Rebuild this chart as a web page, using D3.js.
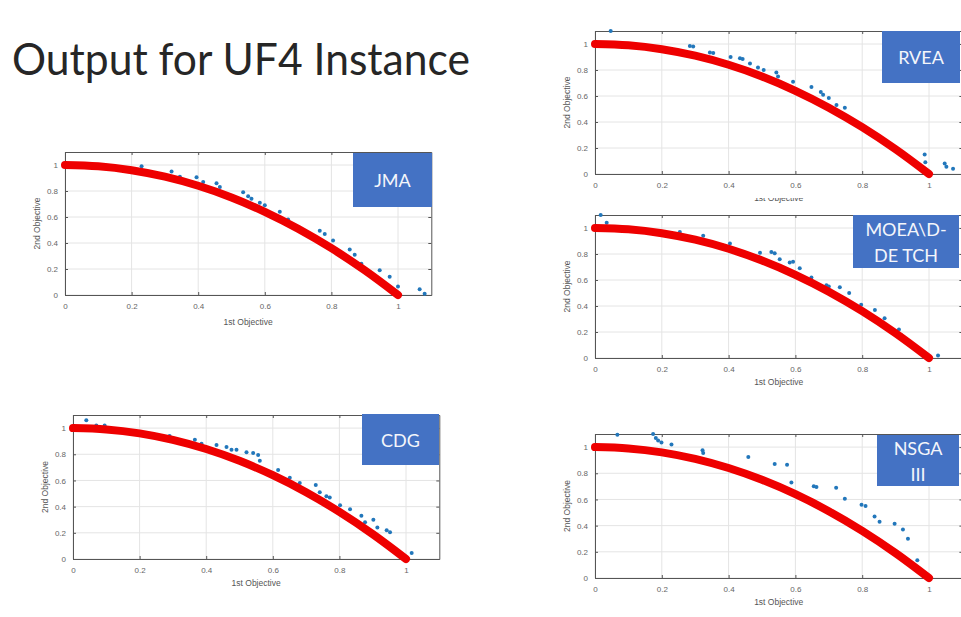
<!DOCTYPE html>
<html>
<head>
<meta charset="utf-8">
<script src="https://cdn.jsdelivr.net/npm/d3@7"></script>
<style>
  html, body { margin: 0; padding: 0; background: #fff; }
  svg { display: block; }
</style>
</head>
<body>
<svg id="chart" width="961" height="617"></svg>
<script>
// Tick values shared by both axes of every panel
const tickValues = [0, 0.2, 0.4, 0.6, 0.8, 1];
const tickLabels = ["0", "0.2", "0.4", "0.6", "0.8", "1"];

// True Pareto front of UF4 (red band), sampled along the first objective
const frontX = [0, 0.1, 0.2, 0.3, 0.4, 0.5, 0.6, 0.7, 0.8, 0.9, 1.0];
const frontY = [1, 0.99, 0.96, 0.91, 0.84, 0.75, 0.64, 0.51, 0.36, 0.19, 0];

// Obtained solutions per algorithm: [1st objective, 2nd objective]
const jmaPoints = [
  [0.23, 0.99], [0.32, 0.95], [0.345, 0.91], [0.395, 0.905], [0.415, 0.87],
  [0.455, 0.86], [0.465, 0.83], [0.535, 0.79], [0.55, 0.76], [0.56, 0.74],
  [0.585, 0.71], [0.60, 0.69], [0.645, 0.64], [0.67, 0.58], [0.765, 0.495],
  [0.78, 0.47], [0.805, 0.42], [0.855, 0.35], [0.87, 0.31], [0.89, 0.24],
  [0.945, 0.19], [0.975, 0.14], [1.0, 0.065], [1.065, 0.045], [1.08, 0.01]
];
const rveaPoints = [
  [0.047, 1.10], [0.284, 0.985], [0.294, 0.98], [0.344, 0.935], [0.354, 0.93],
  [0.406, 0.90], [0.434, 0.89], [0.442, 0.885], [0.464, 0.85], [0.488, 0.82],
  [0.505, 0.80], [0.543, 0.78], [0.548, 0.75], [0.593, 0.71], [0.648, 0.67],
  [0.676, 0.63], [0.683, 0.61], [0.70, 0.585], [0.723, 0.53], [0.748, 0.51],
  [0.987, 0.15], [0.989, 0.09], [1.047, 0.08], [1.052, 0.055], [1.072, 0.04]
];
const moeadPoints = [
  [0.017, 1.10], [0.035, 1.04], [0.254, 0.97], [0.324, 0.94], [0.404, 0.88],
  [0.494, 0.81], [0.528, 0.815], [0.538, 0.805], [0.553, 0.76], [0.583, 0.735],
  [0.593, 0.74], [0.613, 0.69], [0.648, 0.62], [0.693, 0.56], [0.70, 0.55],
  [0.733, 0.545], [0.761, 0.50], [0.797, 0.41], [0.838, 0.37], [0.867, 0.305],
  [0.91, 0.22], [0.917, 0.175], [1.027, 0.02]
];
const cdgPoints = [
  [0.04, 1.06], [0.07, 1.02], [0.095, 1.02], [0.29, 0.94], [0.366, 0.91],
  [0.386, 0.88], [0.431, 0.87], [0.461, 0.855], [0.476, 0.835], [0.491, 0.835],
  [0.521, 0.815], [0.541, 0.81], [0.556, 0.795], [0.561, 0.75], [0.616, 0.68],
  [0.651, 0.62], [0.681, 0.58], [0.729, 0.565], [0.741, 0.51], [0.761, 0.48],
  [0.771, 0.47], [0.802, 0.41], [0.832, 0.38], [0.866, 0.33], [0.877, 0.28],
  [0.902, 0.30], [0.914, 0.24], [0.942, 0.22], [0.952, 0.205], [1.017, 0.046]
];
const nsgaPoints = [
  [0.067, 1.095], [0.174, 1.10], [0.182, 1.07], [0.189, 1.05], [0.199, 1.035],
  [0.229, 1.02], [0.322, 0.975], [0.324, 0.955], [0.459, 0.925], [0.538, 0.87],
  [0.575, 0.865], [0.588, 0.73], [0.655, 0.70], [0.663, 0.695], [0.722, 0.69],
  [0.748, 0.605], [0.798, 0.56], [0.81, 0.55], [0.837, 0.47], [0.852, 0.43],
  [0.897, 0.415], [0.922, 0.37], [0.937, 0.30], [0.965, 0.135]
];

// Algorithm names shown in the blue tags
const jmaTag = ["JMA"];
const rveaTag = ["RVEA"];
const moeadTag = ["MOEA\\D-", "DE TCH"];
const cdgTag = ["CDG"];
const nsgaTag = ["NSGA", "III"];

const svg = d3.select("#chart");
const front = frontX.map((x, i) => [x, frontY[i]]);

svg.append("text")
  .attr("x", 12).attr("y", 75)
  .attr("font-family", "Lato, 'Open Sans', sans-serif")
  .attr("font-size", 45)
  .attr("fill", "#262626")
  .attr("textLength", 458)
  .attr("lengthAdjust", "spacingAndGlyphs")
  .text("Output for UF4 Instance");

const panels = [
  { pts: jmaPoints,   tag: jmaTag,   left: 65,  top: 152, bottom: 295, unit: 333, xlab: 28, box: [353, 153, 79, 54] },
  { pts: rveaPoints,  tag: rveaTag,  left: 595, top: 31,  bottom: 174, unit: 334, xlab: 25, box: [882, 31, 78, 52], cutLabel: 198 },
  { pts: moeadPoints, tag: moeadTag, left: 595, top: 215, bottom: 358, unit: 334, xlab: 25, box: [853, 215, 106, 53] },
  { pts: cdgPoints,   tag: cdgTag,   left: 73,  top: 415, bottom: 559, unit: 333, xlab: 25, box: [362, 414, 77, 51] },
  { pts: nsgaPoints,  tag: nsgaTag,  left: 595, top: 434, bottom: 578, unit: 334, xlab: 25, box: [877, 435, 82, 51] }
];

const tickFont = "'Liberation Sans', Arial, sans-serif";

panels.forEach((p, idx) => {
  const w = p.unit * 1.1;
  const x = d3.scaleLinear().domain([0, 1.1]).range([p.left, p.left + w]);
  const y = d3.scaleLinear().domain([0, 1.1]).range([p.bottom, p.top]);
  const g = svg.append("g");

  // grid
  g.append("g").selectAll("line").data(tickValues).join("line")
    .attr("x1", d => x(d)).attr("x2", d => x(d))
    .attr("y1", p.top).attr("y2", p.bottom)
    .attr("stroke", "#e4e4e4").attr("stroke-width", 1);
  g.append("g").selectAll("line").data(tickValues).join("line")
    .attr("x1", p.left).attr("x2", p.left + w)
    .attr("y1", d => y(d)).attr("y2", d => y(d))
    .attr("stroke", "#e4e4e4").attr("stroke-width", 1);

  // axes with inward ticks on all four sides
  const xAxis = d3.axisBottom(x).tickValues(tickValues).tickFormat((d, i) => tickLabels[i])
    .tickSizeInner(-3).tickSizeOuter(0).tickPadding(8);
  const yAxis = d3.axisLeft(y).tickValues(tickValues).tickFormat((d, i) => tickLabels[i])
    .tickSizeInner(-3).tickSizeOuter(0).tickPadding(7);
  const xTop = d3.axisTop(x).tickValues(tickValues).tickFormat("").tickSizeInner(-3).tickSizeOuter(0);
  const yRight = d3.axisRight(y).tickValues(tickValues).tickFormat("").tickSizeInner(-3).tickSizeOuter(0);

  [
    g.append("g").attr("transform", `translate(0,${p.bottom})`).call(xAxis),
    g.append("g").attr("transform", `translate(${p.left},0)`).call(yAxis),
    g.append("g").attr("transform", `translate(0,${p.top})`).call(xTop),
    g.append("g").attr("transform", `translate(${p.left + w},0)`).call(yRight)
  ].forEach(a => {
    a.select(".domain").attr("stroke", "#555").attr("stroke-width", 1);
    a.selectAll(".tick line").attr("stroke", "#555");
    a.selectAll(".tick text").attr("fill", "#666").attr("font-size", 8).attr("font-family", tickFont);
  });

  // solutions
  g.append("g").selectAll("circle").data(p.pts).join("circle")
    .attr("cx", d => x(d[0])).attr("cy", d => y(d[1]))
    .attr("r", 2).attr("fill", "#2277bb");

  // true front
  g.append("path").datum(front)
    .attr("d", d3.line().x(d => x(d[0])).y(d => y(d[1])).curve(d3.curveCatmullRom))
    .attr("fill", "none").attr("stroke", "#ee0000")
    .attr("stroke-width", 8).attr("stroke-linecap", "round");

  // axis titles
  const xl = g.append("text")
    .attr("x", p.left + (p.unit * 1.1) / 2)
    .attr("y", p.bottom + p.xlab)
    .attr("text-anchor", "middle").attr("dominant-baseline", "middle")
    .attr("font-size", 8.5).attr("font-family", tickFont).attr("fill", "#555")
    .text("1st Objective");
  if (p.cutLabel) {
    const cid = "cut" + idx;
    svg.append("clipPath").attr("id", cid).append("rect")
      .attr("x", p.left).attr("y", p.cutLabel).attr("width", w).attr("height", 15);
    xl.attr("clip-path", `url(#${cid})`);
  }
  g.append("text")
    .attr("transform", `translate(${p.left - 27},${(p.top + p.bottom) / 2}) rotate(-90)`)
    .attr("text-anchor", "middle").attr("dominant-baseline", "middle")
    .attr("font-size", 8.5).attr("font-family", tickFont).attr("fill", "#555")
    .text("2nd Objective");

  // algorithm tag
  const [bx, by, bw, bh] = p.box;
  g.append("rect").attr("x", bx).attr("y", by).attr("width", bw).attr("height", bh)
    .attr("fill", "#4472c4");
  const n = p.tag.length;
  const lh = 26;
  g.append("g").selectAll("text").data(p.tag).join("text")
    .attr("x", bx + bw / 2)
    .attr("y", (d, i) => by + bh / 2 + (i - (n - 1) / 2) * lh)
    .attr("text-anchor", "middle").attr("dominant-baseline", "central")
    .attr("font-family", "Lato, 'Open Sans', sans-serif")
    .attr("font-size", 18).attr("fill", "#f4f6fb")
    .text(d => d);
});
</script>
</body>
</html>
